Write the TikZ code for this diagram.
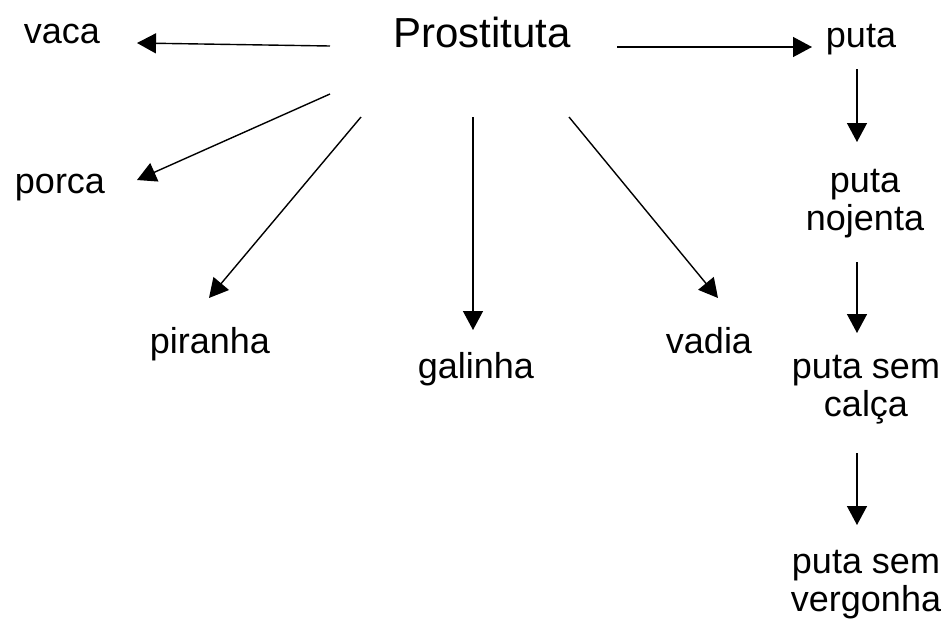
\documentclass[tikz,border=0pt]{standalone}
\usepackage{fontspec}
\setmainfont{Liberation Sans}
\usetikzlibrary{arrows.meta}
\begin{document}
\begin{tikzpicture}[x=1pt,y=-1pt,
  lbl/.style={inner sep=0pt,anchor=base,align=center,font=\fontsize{36}{37.5}\selectfont},
  big/.style={inner sep=0pt,anchor=base,font=\fontsize{42}{48}\selectfont},
  arr/.style={line width=1.4pt,-{Triangle[length=19pt,width=20pt]}}]
\useasboundingbox (0,0) rectangle (951,619);
% nodes
\node[big] (P) at (482,47) {Prostituta};
\node[lbl] (vaca) at (62,43) {vaca};
\node[lbl] (porca) at (60,193) {porca};
\node[lbl] (piranha) at (210,353) {piranha};
\node[lbl] (galinha) at (476,378) {galinha};
\node[lbl] (vadia) at (709,353) {vadia};
\node[lbl] (puta) at (861,47) {puta};
\node[lbl] (nojenta) at (865,230) {puta\\nojenta};
\node[lbl] (calca) at (866,416) {puta sem\\calça};
\node[lbl] (vergonha) at (866,611) {puta sem\\vergonha};
% connector end points
\coordinate (Pw) at (330,46);
\coordinate (Psw) at (330,94);
\coordinate (Ps1) at (361,117);
\coordinate (Ps2) at (473,117);
\coordinate (Ps3) at (569,117);
\coordinate (Pe) at (617,47);
\coordinate (vacaIn) at (137,43);
\coordinate (porcaIn) at (137,180);
\coordinate (piranhaIn) at (209,298);
\coordinate (galinhaIn) at (473,330);
\coordinate (vadiaIn) at (718,298);
\coordinate (putaIn) at (812,47);
\coordinate (putaOut) at (857,69);
\coordinate (nojIn) at (857,142);
\coordinate (nojOut) at (857,262);
\coordinate (calIn) at (857,333);
\coordinate (calOut) at (857,453);
\coordinate (verIn) at (857,525);
% connectors
\draw[arr] (Pw) -- (vacaIn);
\draw[arr] (Psw) -- (porcaIn);
\draw[arr] (Ps1) -- (piranhaIn);
\draw[arr] (Ps2) -- (galinhaIn);
\draw[arr] (Ps3) -- (vadiaIn);
\draw[arr] (Pe) -- (putaIn);
\draw[arr] (putaOut) -- (nojIn);
\draw[arr] (nojOut) -- (calIn);
\draw[arr] (calOut) -- (verIn);
\end{tikzpicture}
\end{document}
